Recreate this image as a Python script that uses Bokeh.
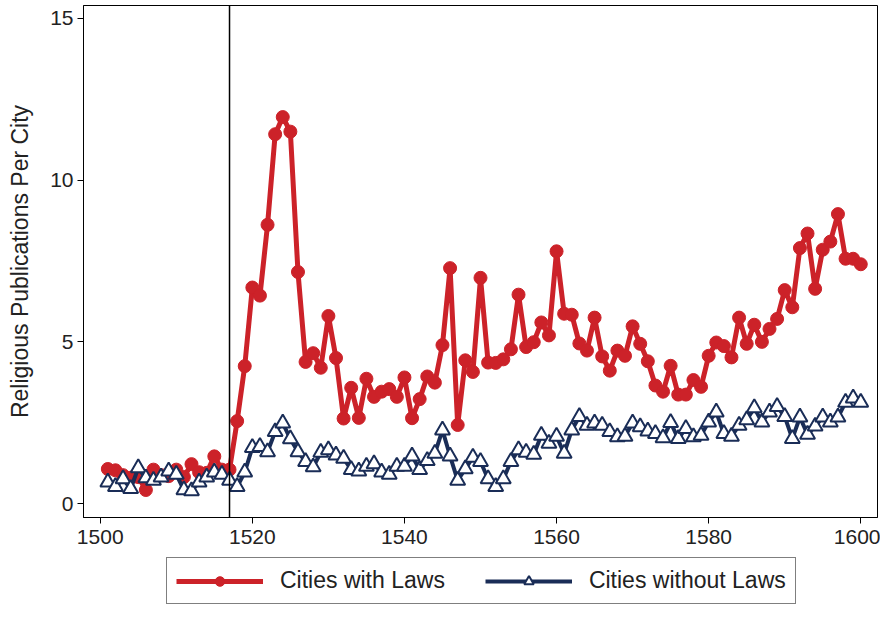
from bokeh.plotting import figure
from bokeh.models import Range1d, Span, Legend, LegendItem, FixedTicker
from bokeh.layouts import column
from bokeh.embed import file_html
from bokeh.resources import INLINE

years = list(range(1501, 1601))

with_laws = [1.07, 1.03, 0.88, 0.80, 0.82, 0.42, 1.05, 0.88, 0.85, 1.05,
             0.82, 1.22, 0.97, 0.95, 1.46, 1.05, 1.05, 2.55, 4.25, 6.68,
             6.43, 8.62, 11.42, 11.95, 11.50, 7.16, 4.38, 4.65, 4.20, 5.80,
             4.50, 2.63, 3.58, 2.65, 3.86, 3.30, 3.46, 3.54, 3.30, 3.90,
             2.64, 3.23, 3.93, 3.74, 4.90, 7.28, 2.43, 4.43, 4.07, 6.98,
             4.36, 4.35, 4.46, 4.77, 6.46, 4.84, 4.99, 5.60, 5.20, 7.80,
             5.87, 5.84, 4.95, 4.73, 5.75, 4.55, 4.11, 4.73, 4.57, 5.48,
             4.94, 4.40, 3.65, 3.46, 4.26, 3.37, 3.37, 3.82, 3.61, 4.57,
             4.98, 4.87, 4.52, 5.75, 4.94, 5.53, 5.00, 5.40, 5.71, 6.60,
             6.07, 7.90, 8.35, 6.64, 7.85, 8.10, 8.95, 7.57, 7.57, 7.40]

without_laws = [0.66, 0.52, 0.76, 0.46, 1.10, 0.79, 0.72, 0.82, 1.00, 0.90,
                0.42, 0.39, 0.66, 0.82, 0.97, 0.90, 0.72, 0.52, 0.97, 1.73,
                1.76, 1.60, 2.22, 2.49, 2.00, 1.60, 1.30, 1.13, 1.58, 1.66,
                1.50, 1.40, 1.05, 1.00, 1.15, 1.23, 0.97, 0.90, 1.15, 1.15,
                1.47, 1.05, 1.33, 1.55, 2.27, 1.47, 0.72, 1.07, 1.43, 1.30,
                0.76, 0.52, 0.76, 1.30, 1.66, 1.58, 1.52, 2.11, 1.86, 2.08,
                1.55, 2.27, 2.69, 2.42, 2.49, 2.42, 2.22, 2.06, 2.08, 2.49,
                2.37, 2.24, 2.16, 2.03, 2.50, 2.01, 2.32, 2.06, 2.11, 2.52,
                2.83, 2.16, 2.08, 2.42, 2.59, 2.96, 2.52, 2.83, 3.00, 2.69,
                2.01, 2.67, 2.14, 2.39, 2.67, 2.52, 2.67, 3.13, 3.26, 3.13]

x_ticks = [1500, 1520, 1540, 1560, 1580, 1600]
y_ticks = [0, 5, 10, 15]
law_year = 1517
series_labels = ["Cities with Laws", "Cities without Laws"]

RED = "#cc2229"
NAVY = "#1a2d57"
FONT = "Liberation Sans"
TXT = "#222222"


def draw_series(fig):
    rl = fig.line(years, with_laws, line_color=RED, line_width=5)
    rs = fig.scatter(years, with_laws, marker="circle", size=13,
                     fill_color=RED, line_color=RED)
    bl = fig.line(years, without_laws, line_color=NAVY, line_width=4)
    bs = fig.scatter(years, without_laws, marker="triangle", size=15,
                     fill_color="white", line_color=NAVY, line_width=2)
    return rl, rs, bl, bs


p = figure(width=880, height=557, output_backend="svg", toolbar_location=None,
           x_range=Range1d(1497.8, 1602.2), y_range=Range1d(-0.43, 15.4),
           min_border_left=83, min_border_right=3, min_border_top=5,
           min_border_bottom=40)
p.grid.visible = False
p.outline_line_color = "black"
p.outline_line_width = 1
p.background_fill_color = "white"
p.border_fill_color = "white"

for ax in (p.xaxis, p.yaxis):
    ax.axis_line_color = "black"
    ax.major_tick_line_color = "black"
    ax.minor_tick_line_color = None
    ax.major_tick_out = 6
    ax.major_tick_in = 0
    ax.major_label_text_font = FONT
    ax.major_label_text_font_size = "21px"
    ax.major_label_text_color = TXT

p.xaxis.ticker = FixedTicker(ticks=x_ticks)
p.yaxis.ticker = FixedTicker(ticks=y_ticks)
p.xaxis.major_label_standoff = 6
p.yaxis.major_label_standoff = 4
p.yaxis.major_label_orientation = "horizontal"
p.yaxis.axis_label = "Religious Publications Per City"
p.yaxis.axis_label_text_font = FONT
p.yaxis.axis_label_text_font_size = "23px"
p.yaxis.axis_label_text_font_style = "normal"
p.yaxis.axis_label_text_color = TXT
p.yaxis.axis_label_standoff = 14

p.add_layout(Span(location=law_year, dimension="height", line_color="black",
                  line_width=1.5))
draw_series(p)

# legend strip below the plot (its series lie outside its ranges)
lf = figure(width=880, height=48, output_backend="svg", toolbar_location=None,
            x_axis_type=None, y_axis_type=None,
            x_range=Range1d(0, 1), y_range=Range1d(0, 1),
            min_border=0, outline_line_color=None)
lf.grid.visible = False
lf.background_fill_color = "white"
lf.border_fill_color = "white"
rl, rs, bl, bs = draw_series(lf)

legend = Legend(items=[LegendItem(label=series_labels[0], renderers=[rl, rs]),
                       LegendItem(label=series_labels[1], renderers=[bl, bs])],
                orientation="horizontal", location=(83, 1))
legend.label_text_font = FONT
legend.label_text_font_size = "23px"
legend.label_text_color = TXT
legend.glyph_width = 87
legend.glyph_height = 24
legend.label_standoff = 17
legend.spacing = 40
legend.padding = 9
legend.margin = 0
legend.border_line_color = "black"
legend.border_line_width = 1
legend.background_fill_color = "white"
lf.add_layout(legend, "center")

layout = column(p, lf, spacing=0)
open("out.html", "w").write(file_html(layout, INLINE))
